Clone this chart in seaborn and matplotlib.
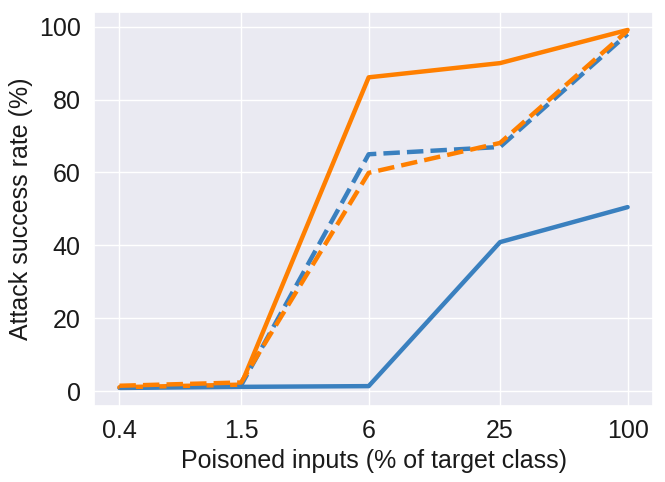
import numpy as np
import pandas as pd
import matplotlib
matplotlib.use("Agg")
import matplotlib.pyplot as plt
import seaborn as sns

# poisoned inputs (% of target class)
poisoned = [0.4, 1.5, 6, 25, 100]
tickLabels = ["0.4", "1.5", "6", "25", "100"]

# attack success rate (%)
blueSolid = [0.9, 1.2, 1.4, 40.9, 50.5]
orangeSolid = [1.1, 1.8, 86.1, 90.0, 99.1]
blueDashed = [1.0, 1.6, 65.0, 67.0, 98.0]
orangeDashed = [1.5, 2.4, 59.9, 68.1, 98.9]

sns.set_theme(style="darkgrid")
plt.rcParams['font.family'] = ['Liberation Sans', 'DejaVu Sans']

BLUE = "#3a80bf"
ORANGE = "#ff7f00"

fig, ax = plt.subplots(figsize=(6.65, 4.82), dpi=100)
fig.subplots_adjust(left=0.1414, right=0.982, top=0.975, bottom=0.158)

series = [
    (blueSolid, BLUE, "-"),
    (orangeSolid, ORANGE, "-"),
    (blueDashed, BLUE, "--"),
    (orangeDashed, ORANGE, "--"),
]
for values, color, ls in series:
    df = pd.DataFrame({"x": poisoned, "y": values})
    sns.lineplot(data=df, x="x", y="y", color=color, linestyle=ls, linewidth=3.2, ax=ax)

ax.set_xscale("log")
ax.set_xticks(poisoned)
ax.set_xticklabels(tickLabels)
ax.minorticks_off()
ax.set_yticks([0, 20, 40, 60, 80, 100])
ax.tick_params(labelsize=18, labelcolor="#1a1a1a")
ax.set_xlabel("Poisoned inputs (% of target class)", fontsize=18, color="#1a1a1a")
ax.set_ylabel("Attack success rate (%)", fontsize=18, color="#1a1a1a")

fig.savefig("out.png", dpi=100)
